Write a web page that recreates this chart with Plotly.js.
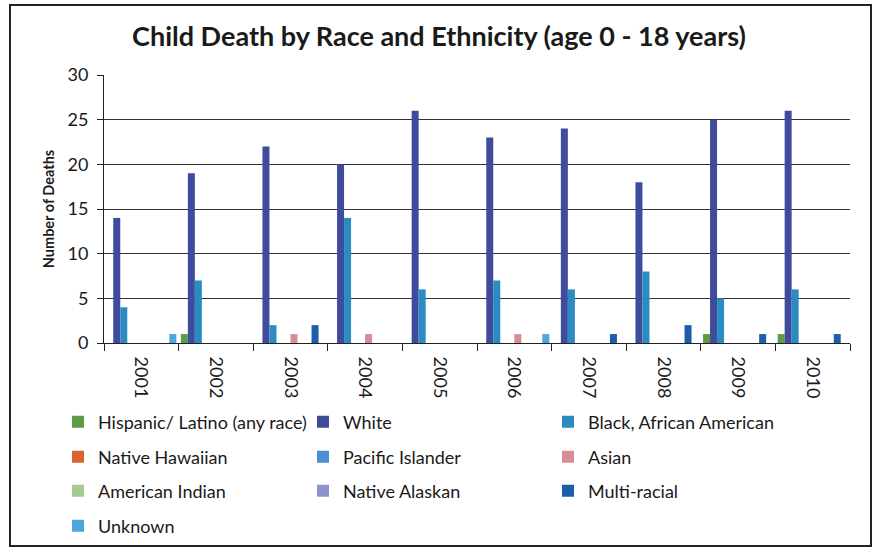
<!DOCTYPE html>
<html>
<head>
<meta charset="utf-8">
<script src="https://cdn.plot.ly/plotly-3.0.1.min.js"></script>
<style>
  html, body { margin: 0; padding: 0; background: #fff; }
  #chart { width: 878px; height: 548px; }
</style>
</head>
<body>
<div id="chart"></div>
<script>
// ---- Data ----
const years = ["2001", "2002", "2003", "2004", "2005", "2006", "2007", "2008", "2009", "2010"];
const hispanic        = [0, 1, 0, 0, 0, 0, 0, 0, 1, 1];
const white           = [14, 19, 22, 20, 26, 23, 24, 18, 25, 26];
const black           = [4, 7, 2, 14, 6, 7, 6, 8, 5, 6];
const nativeHawaiian  = [0, 0, 0, 0, 0, 0, 0, 0, 0, 0];
const pacificIslander = [0, 0, 0, 0, 0, 0, 0, 0, 0, 0];
const asian           = [0, 0, 1, 1, 0, 1, 0, 0, 0, 0];
const americanIndian  = [0, 0, 0, 0, 0, 0, 0, 0, 0, 0];
const nativeAlaskan   = [0, 0, 0, 0, 0, 0, 0, 0, 0, 0];
const multiRacial     = [0, 0, 2, 0, 0, 0, 1, 2, 1, 1];
const unknown         = [1, 0, 0, 0, 0, 1, 0, 0, 0, 0];

const seriesNames = ["Hispanic/ Latino (any race)", "White", "Black, African American",
  "Native Hawaiian", "Pacific Islander", "Asian",
  "American Indian", "Native Alaskan", "Multi-racial", "Unknown"];
const seriesValues = [hispanic, white, black, nativeHawaiian, pacificIslander, asian,
  americanIndian, nativeAlaskan, multiRacial, unknown];
const seriesColors = ["#5f9a45", "#3f4c9c", "#2a8cc0", "#d9642e", "#4b8fd0", "#d98c98",
  "#a3cc94", "#8c92cc", "#1c5fa8", "#4ba6dc"];
const legendIds = ["legend", "legend", "legend",
  "legend2", "legend2", "legend2",
  "legend3", "legend3", "legend3",
  "legend4"];

const traces = seriesNames.map((name, i) => ({
  type: "bar",
  name: name,
  x: years,
  y: seriesValues[i],
  marker: { color: seriesColors[i], line: { width: 0 } },
  legend: legendIds[i],
  hoverinfo: "x+y+name"
}));

const W = 878, H = 548;
const plotL = 104, plotR = 850, plotT = 75, plotB = 343;
const pw = plotR - plotL, ph = plotB - plotT;
function py(pix) { return (plotB - pix) / ph; }
function px(pix) { return (pix - plotL) / pw; }

const FONT = "Lato, 'Open Sans', sans-serif";
const legFont = { family: FONT, size: 18, color: "#1a1a1a" };
function leg(rowY) {
  return {
    orientation: "h",
    xref: "container", x: 58 / W, xanchor: "left",
    yref: "container", y: 1 - rowY / H, yanchor: "middle",
    entrywidth: 200, entrywidthmode: "pixels",
    font: legFont,
    bgcolor: "rgba(0,0,0,0)",
    traceorder: "normal",
    itemclick: false, itemdoubleclick: false
  };
}

const layout = {
  width: W, height: H,
  margin: { l: plotL, r: W - plotR, t: plotT, b: H - plotB, pad: 0, autoexpand: false },
  paper_bgcolor: "#ffffff",
  plot_bgcolor: "#ffffff",
  font: { family: FONT, color: "#1a1a1a" },
  title: {
    text: "<b>Child Death by Race and Ethnicity (age 0 - 18 years)</b>",
    font: { family: FONT, size: 27, color: "#1a1a1a" },
    x: 0.5, xref: "container", xanchor: "center",
    y: 1 - 37 / H, yref: "container", yanchor: "middle"
  },
  barmode: "group",
  bargap: 0.06,
  bargroupgap: 0,
  xaxis: {
    type: "category",
    tickson: "boundaries",
    ticks: "outside",
    ticklen: 7,
    tickcolor: "#222",
    tickangle: 90,
    ticklabelstandoff: 9,
    tickfont: { size: 18, color: "#1a1a1a" },
    showline: true, linecolor: "#222", linewidth: 1,
    showgrid: false,
    zeroline: false,
    automargin: false,
    fixedrange: true
  },
  yaxis: {
    range: [0, 30],
    dtick: 5,
    ticks: "outside",
    ticklen: 6,
    tickcolor: "#222",
    ticklabelstandoff: 5,
    tickfont: { size: 18, color: "#1a1a1a" },
    showline: true, linecolor: "#222", linewidth: 1,
    showgrid: true, gridcolor: "#333", gridwidth: 1,
    zeroline: false,
    automargin: false,
    title: {
      text: "<b>Number of Deaths</b>",
      font: { size: 14.5, color: "#1a1a1a" },
      standoff: 9
    },
    fixedrange: true
  },
  showlegend: true,
  legend: leg(422),
  legend2: leg(457),
  legend3: leg(491),
  legend4: leg(526),
  shapes: [{
    type: "rect", xref: "paper", yref: "paper",
    x0: px(10), x1: px(871), y0: py(546), y1: py(5),
    line: { color: "#222", width: 2 }, fillcolor: "rgba(0,0,0,0)", layer: "below"
  }]
};

Plotly.newPlot("chart", traces, layout, { displayModeBar: false, staticPlot: true });
</script>
</body>
</html>
